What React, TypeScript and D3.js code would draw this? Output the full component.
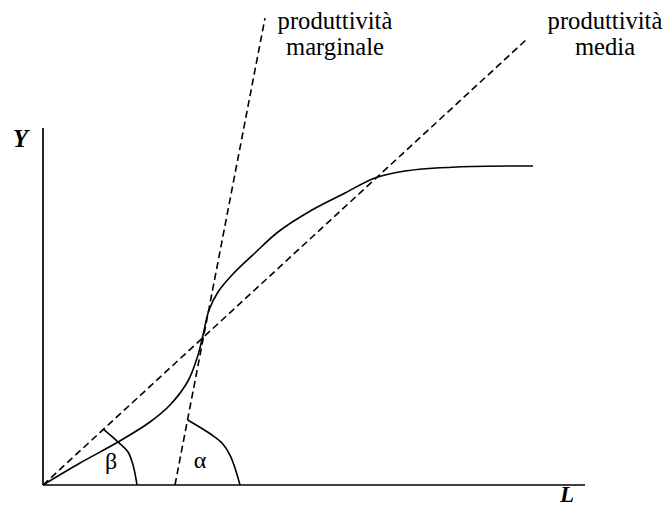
import React from "react";
import * as d3 from "d3";

// Total product curve Y(L) (data units: L 0..100, Y 0..100)
const curveL = [0, 6.83, 13.84, 19.74, 23.43, 26.75, 28.6, 29.52, 30.63, 32.29, 34.87, 39.11, 43.36, 49.63, 55.72, 61.25, 66.79, 76.38, 90.41];
const curveY = [0, 6.16, 12.04, 17.65, 22.41, 29.13, 36.41, 42.02, 49.02, 54.06, 58.82, 64.99, 70.87, 77.03, 81.79, 85.99, 87.96, 89.08, 89.36];

// Average productivity ray (through origin) and marginal productivity tangent
const mediaL = [0, 89.5];
const mediaY = [0, 125.2];
const marginL = [24.35, 40.96];
const marginY = [0, 130.8];

// Angle arcs
const betaL = [11.07, 13.84, 15.68, 16.61, 17.16, 17.34];
const betaY = [15.69, 12.04, 9.24, 5.6, 1.68, 0];
const alphaL = [26.7, 31.18, 33.03, 34.5, 35.42, 36.35];
const alphaY = [18.21, 14.01, 11.76, 8.4, 4.76, 0];

const zip = (a: number[], b: number[]) => a.map((v, i) => [v, b[i]] as [number, number]);

export default function App() {
  const W = 667, H = 508;
  const x = d3.scaleLinear().domain([0, 100]).range([43, 585]);
  const y = d3.scaleLinear().domain([0, 100]).range([485, 128]);
  const smooth = d3.line<[number, number]>().x(d => x(d[0])).y(d => y(d[1])).curve(d3.curveCatmullRom.alpha(0.5));
  const straight = d3.line<[number, number]>().x(d => x(d[0])).y(d => y(d[1]));
  const arc = d3.line<[number, number]>().x(d => x(d[0])).y(d => y(d[1])).curve(d3.curveCatmullRom.alpha(0.5));
  const tf: React.CSSProperties = { fontFamily: "'Liberation Serif', 'DejaVu Serif', serif" };
  const sw = 1.6;
  return (
    <svg width={W} height={H} style={{ position: "absolute", left: 0, top: 0, background: "#fff" }}>
      <rect width={W} height={H} fill="#fff" />
      {/* axes */}
      <line x1={x(0)} y1={y(100)} x2={x(0)} y2={y(0)} stroke="#000" strokeWidth={1.7} />
      <line x1={x(0)} y1={y(0)} x2={x(100)} y2={y(0)} stroke="#000" strokeWidth={1.7} />
      {/* curves */}
      <path d={smooth(zip(curveL, curveY)) || ""} fill="none" stroke="#000" strokeWidth={sw} />
      <path d={straight(zip(mediaL, mediaY)) || ""} fill="none" stroke="#000" strokeWidth={sw} strokeDasharray="7,4" />
      <path d={straight(zip(marginL, marginY)) || ""} fill="none" stroke="#000" strokeWidth={sw} strokeDasharray="7,4" />
      <path d={arc(zip(betaL, betaY)) || ""} fill="none" stroke="#000" strokeWidth={sw} />
      <path d={arc(zip(alphaL, alphaY)) || ""} fill="none" stroke="#000" strokeWidth={sw} />
      {/* labels */}
      <text x={13} y={147} fontSize={24.6} fontWeight="bold" fontStyle="italic" style={tf}>Y</text>
      <text x={560} y={502} fontSize={23} fontWeight="bold" fontStyle="italic" style={tf}>L</text>
      <text x={111} y={469} fontSize={24} textAnchor="middle" style={tf}>β</text>
      <text x={200} y={468} fontSize={24} textAnchor="middle" style={tf}>α</text>
      <text x={335} y={29} fontSize={24.6} textAnchor="middle" style={tf}>produttività</text>
      <text x={335} y={55} fontSize={24.6} textAnchor="middle" style={tf}>marginale</text>
      <text x={605} y={29} fontSize={24.6} textAnchor="middle" style={tf}>produttività</text>
      <text x={605} y={55} fontSize={24.6} textAnchor="middle" style={tf}>media</text>
    </svg>
  );
}
